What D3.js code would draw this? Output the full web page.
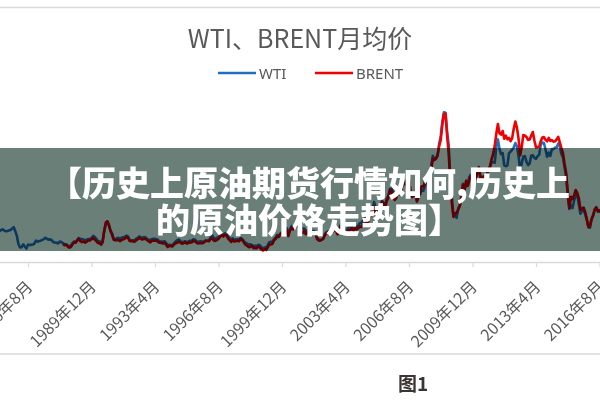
<!DOCTYPE html>
<html><head><meta charset="utf-8">
<script src="https://cdn.jsdelivr.net/npm/d3@7"></script>
<style>html,body{margin:0;padding:0;background:#fff;} svg{display:block;}</style>
</head><body><svg id="c" width="600" height="400"></svg>
<script>
// ---------- data ----------
const chartTitle = "WTI、BRENT月均价";
const seriesNames = ["WTI", "BRENT"];
const seriesColors = ["#1f6fbf", "#f00000"];
const axisOrigin = [1983, 4];          // first category of the axis
const tickEvery = 40;                   // months between labels
const tickLabels = ["1986年8月","1989年12月","1993年4月","1996年8月","1999年12月",
                    "2003年4月","2006年8月","2009年12月","2013年4月","2016年8月"];
const bannerLines = ["【历史上原油期货行情如何,历史上", "的原油价格走势图】"];
const caption = "图1";

const wtiStart = [1985, 1];
const wtiValues = [
  25.6,27.3,28.2,28.8,27.9,27.1,27.3,27.8,28.3,29.5,30.8,27.2,          // 1985
  22.9,15.5,12.6,12.8,15.4,13.4,11.6,15.1,14.9,14.9,15.2,16.1,          // 1986
  18.7,17.8,18.3,18.7,19.4,20.1,21.3,20.3,19.5,19.9,18.9,17.3,          // 1987
  17.1,16.8,16.2,17.9,17.4,16.5,15.5,15.5,14.5,13.8,14.1,16.4,          // 1988
  18.0,17.9,19.5,21.1,20.1,20.1,19.8,18.6,19.6,20.1,19.9,21.1,          // 1989
  22.9,22.1,20.4,18.4,18.2,16.7,18.5,27.3,33.5,36.0,32.3,27.3,          // 1990
  25.2,20.5,19.9,20.8,21.2,20.2,21.4,21.7,21.9,23.2,22.5,19.5,          // 1991
  18.8,19.0,18.9,20.2,21.0,22.4,21.8,21.3,21.9,21.7,20.3,19.4,          // 1992
  19.0,20.1,20.3,20.3,20.0,19.1,17.9,18.0,17.5,18.2,16.6,14.5,          // 1993
  15.0,14.8,14.7,16.4,17.9,19.1,19.7,18.4,17.5,17.7,18.1,17.2,          // 1994
  18.0,18.6,18.5,19.9,19.7,18.5,17.3,18.0,18.2,17.4,18.0,19.0,          // 1995
  18.9,19.1,21.3,23.5,21.2,20.4,21.3,21.9,24.0,24.9,23.7,25.2,          // 1996
  25.1,22.2,21.0,19.7,20.8,19.3,19.7,20.0,19.8,21.3,20.2,18.3,          // 1997
  16.7,16.1,15.1,15.4,14.9,13.7,14.2,13.5,15.0,14.5,13.0,11.4,          // 1998
  12.5,12.0,14.7,17.3,17.7,17.9,20.1,21.3,23.8,22.7,25.0,26.1,          // 1999
  27.3,29.4,29.8,25.7,28.8,31.8,29.7,31.3,33.9,33.1,34.4,28.4,          // 2000
  29.6,29.6,27.3,27.5,28.6,27.6,26.4,27.4,26.2,22.2,19.6,19.4,          // 2001
  19.7,20.7,24.5,26.2,27.0,25.5,27.0,28.4,29.7,28.8,26.4,29.5,          // 2002
  33.0,35.8,33.5,28.2,28.1,30.7,30.8,31.6,28.3,30.3,31.1,32.1,          // 2003
  34.3,34.7,36.7,36.8,40.3,38.0,40.8,44.9,45.9,53.3,48.5,43.2,          // 2004
  46.8,48.2,54.2,53.0,49.8,56.4,59.0,65.0,65.6,62.3,58.3,59.4,          // 2005
  65.5,61.6,62.7,69.4,70.8,71.0,74.4,73.0,63.8,58.9,59.1,62.0,          // 2006
  54.5,59.3,60.4,64.0,63.5,67.5,74.1,72.4,79.9,85.8,94.8,91.7,          // 2007
  93.0,95.4,105.5,112.6,125.4,133.9,133.4,116.7,104.1,76.6,57.3,41.1,   // 2008
  41.7,39.1,47.9,49.7,59.0,69.6,64.2,71.1,69.4,75.7,78.0,74.5,          // 2009
  78.3,76.4,81.2,84.3,73.7,75.3,76.3,76.6,75.2,81.9,84.3,89.2,          // 2010
  89.2,88.6,102.9,109.5,100.9,96.3,97.3,86.3,85.5,86.3,97.2,98.6,       // 2011
  100.3,102.2,106.2,103.3,94.7,82.3,87.9,94.1,94.5,89.5,86.5,87.9,      // 2012
  94.8,95.3,92.9,92.0,94.5,95.8,104.7,106.6,106.3,100.5,93.9,97.6,      // 2013
  94.6,100.8,100.8,102.1,102.2,105.8,103.6,96.5,93.2,84.4,75.8,59.3,    // 2014
  47.2,50.6,47.8,54.5,59.3,59.8,50.9,42.9,45.5,46.2,42.4,37.2,          // 2015
  31.7,30.3,37.6,40.8,46.7,48.8,44.7,44.7,45.2                          // 2016
];

const brentStart = [1988, 6];
const brentValues = [
  15.5,14.7,15.0,13.5,12.4,13.0,15.2,                                   // 1988
  17.0,16.8,18.7,20.4,18.2,17.4,17.9,16.9,17.8,19.0,18.8,19.9,          // 1989
  21.1,19.7,18.4,16.6,16.4,15.1,17.2,27.2,34.9,36.0,32.7,27.6,          // 1990
  23.6,19.5,19.1,19.2,19.2,18.2,19.4,19.8,20.5,22.2,21.1,18.4,          // 1991
  18.2,18.1,17.6,18.9,19.9,21.2,20.3,19.7,20.3,20.3,19.2,18.2,          // 1992
  17.2,18.6,18.7,18.6,18.6,17.4,16.8,16.7,16.1,16.7,15.1,13.1,          // 1993
  14.1,13.7,13.6,15.3,16.3,16.8,18.0,16.9,16.0,16.4,17.3,16.0,          // 1994
  16.6,17.1,17.0,18.6,18.2,17.1,16.1,16.3,16.6,16.3,17.4,18.4,          // 1995
  18.4,18.2,20.2,20.8,18.8,18.5,19.4,20.2,22.2,23.7,22.5,23.5,          // 1996
  23.5,20.8,19.2,17.5,19.1,17.8,18.6,18.5,18.2,20.1,19.1,17.1,          // 1997
  15.1,14.1,12.9,13.1,14.2,12.0,12.1,11.9,13.3,12.7,10.9,9.8,           // 1998
  11.2,10.3,12.5,15.3,15.2,15.9,19.1,20.2,22.5,22.0,24.6,25.5,          // 1999
  25.5,27.8,27.5,22.8,27.7,29.8,28.7,30.2,33.1,31.0,32.6,25.7,          // 2000
  25.6,27.5,24.5,25.7,28.3,27.9,24.6,25.7,25.6,20.5,18.8,18.7,          // 2001
  19.4,20.3,23.7,25.7,25.4,24.1,25.7,26.7,28.4,27.5,24.3,28.3,          // 2002
  31.2,32.8,30.6,25.0,25.9,27.7,28.4,29.9,27.1,29.6,28.8,29.8,          // 2003
  31.3,30.9,33.6,33.6,37.6,35.2,38.2,42.7,43.2,49.8,43.1,39.6,          // 2004
  44.5,45.5,53.1,51.9,48.7,54.4,57.5,64.0,62.9,58.5,55.2,56.9,          // 2005
  63.0,60.2,62.1,70.3,69.8,68.6,73.7,73.2,62.0,57.8,58.8,62.5,          // 2006
  53.7,57.6,62.1,67.5,67.2,71.1,76.9,70.8,77.2,82.3,92.4,90.9,          // 2007
  92.2,95.0,103.6,109.1,122.8,132.3,132.7,113.2,97.2,71.6,52.5,40.0,    // 2008
  43.4,43.3,46.5,50.2,57.3,68.6,64.4,72.5,67.7,72.8,76.7,74.5,          // 2009
  76.2,73.8,78.8,84.8,76.0,74.8,75.6,77.0,77.8,82.7,85.3,91.5,          // 2010
  96.5,103.7,114.6,123.3,115.0,113.8,117.0,110.2,112.8,109.6,110.8,107.9, // 2011
  110.7,119.3,125.5,119.8,110.3,95.2,102.6,113.4,112.9,111.7,109.1,109.5, // 2012
  113.0,116.1,108.5,102.3,102.6,102.9,107.9,111.3,111.6,109.1,107.8,110.8, // 2013
  108.1,108.9,107.5,107.8,109.5,111.8,106.8,101.6,97.1,87.4,79.4,62.3,  // 2014
  47.8,58.1,55.9,59.5,64.1,61.5,56.6,46.5,47.6,48.4,44.3,38.0,          // 2015
  30.7,32.2,38.2,41.6,46.7,48.3,45.0,45.8,46.6                          // 2016
];

// ---------- helpers ----------
const monthIndex = ([y, m]) => (y - axisOrigin[0]) * 12 + (m - axisOrigin[1]);
const toPoints = (start, vals) => vals.map((v, i) => ({ i: monthIndex(start) + i, v }));
const series = [
  { name: seriesNames[0], color: seriesColors[0], pts: toPoints(wtiStart, wtiValues) },
  { name: seriesNames[1], color: seriesColors[1], pts: toPoints(brentStart, brentValues) }
];
const tickIdx = tickLabels.map((d, k) => tickEvery * (k + 1));

// ---------- drawing ----------
const svg = d3.select("#c");
const W = 600, H = 400;
const axisY = 262;

const x = d3.scaleLinear().domain([tickIdx[0], tickIdx[tickIdx.length - 1]]).range([28, 599.5]);
const y = d3.scaleLinear().domain([0, 140]).range([261.5, 105.4]);

// frame lines
svg.append("line").attr("x1", 0).attr("x2", W).attr("y1", 7.5).attr("y2", 7.5)
  .attr("stroke", "#d9d9d9").attr("stroke-width", 1.5);
svg.append("line").attr("x1", 0).attr("x2", W).attr("y1", 354).attr("y2", 354)
  .attr("stroke", "#d9d9d9").attr("stroke-width", 1.5);

// title
svg.append("text").attr("x", 300).attr("y", 47.5).attr("text-anchor", "middle")
  .attr("font-family", "'Noto Sans CJK SC','Noto Sans',sans-serif").attr("font-size", 25)
  .attr("fill", "#595959").text(chartTitle);

// legend
const legendPos = [{ lx: 218, tx: 259 }, { lx: 315, tx: 356 }];
series.forEach((s, k) => {
  const p = legendPos[k];
  svg.append("line").attr("x1", p.lx).attr("x2", p.lx + 38).attr("y1", 73).attr("y2", 73)
    .attr("stroke", s.color).attr("stroke-width", 2.5);
  svg.append("text").attr("x", p.tx).attr("y", 78.5)
    .attr("font-family", "'Noto Sans','Noto Sans CJK SC',sans-serif").attr("font-size", 15)
    .attr("fill", "#595959").text(s.name);
});

// axis
const axis = d3.axisBottom(x).tickValues(tickIdx).tickFormat((d, k) => tickLabels[k])
  .tickSize(5).tickSizeOuter(0);
const gA = svg.append("g").attr("transform", `translate(0,${axisY})`).call(axis);
gA.select(".domain").remove();
gA.append("line").attr("x1", 0).attr("x2", W).attr("y1", 0.5).attr("y2", 0.5)
  .attr("stroke", "#d9d9d9").attr("stroke-width", 1.5);
gA.selectAll(".tick line").attr("stroke", "#d9d9d9").attr("stroke-width", 1.2);
gA.selectAll(".tick text")
  .attr("font-family", "'Noto Sans CJK SC','Noto Sans',sans-serif").attr("font-size", 16)
  .attr("fill", "#595959").attr("text-anchor", "end")
  .attr("dy", "0.35em").attr("y", 0)
  .attr("transform", "translate(1,22) rotate(-45)");

// lines
const line = d3.line().x(d => x(d.i)).y(d => y(d.v));
series.forEach(s => {
  svg.append("path").datum(s.pts).attr("d", line).attr("fill", "none")
    .attr("stroke", s.color).attr("stroke-width", 2.6).attr("stroke-linejoin", "round");
});

// banner overlay
svg.append("rect").attr("x", 0).attr("y", 148).attr("width", W).attr("height", 103)
  .attr("fill", "#6a7f78").style("mix-blend-mode", "multiply");
bannerLines.forEach((t, k) => {
  svg.append("text").attr("x", 309).attr("y", 196 + k * 37).attr("text-anchor", "middle")
    .attr("font-family", "'Noto Sans CJK SC',sans-serif").attr("font-weight", 900)
    .attr("font-size", 34).attr("fill", "#ffffff").text(t);
});

// caption
svg.append("text").attr("x", 413).attr("y", 391).attr("text-anchor", "middle")
  .attr("font-family", "'Noto Sans CJK SC',sans-serif").attr("font-weight", 700)
  .attr("font-size", 19).attr("fill", "#3a3434").text(caption);
</script>
</body></html>
